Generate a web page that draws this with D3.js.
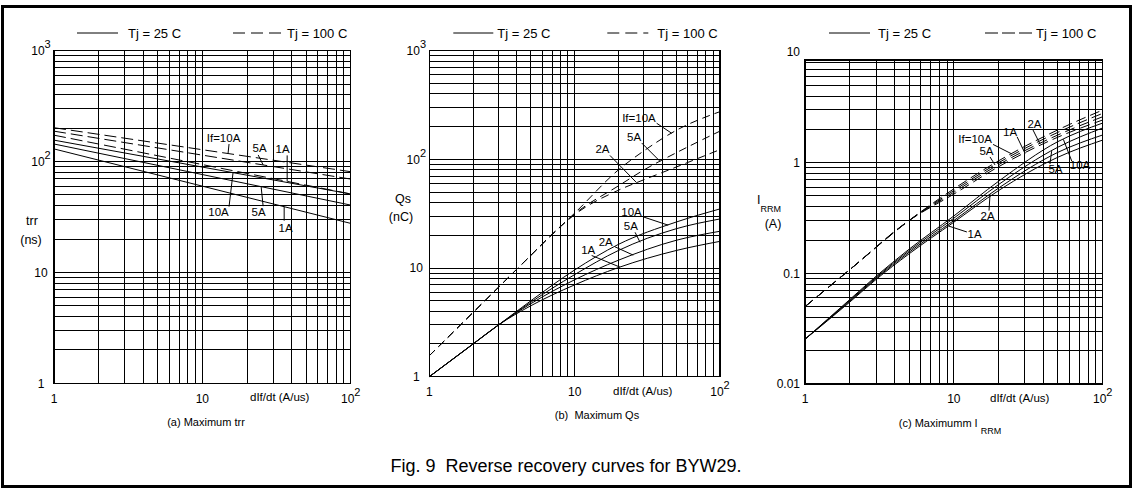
<!DOCTYPE html>
<html><head><meta charset="utf-8">
<script src="https://cdn.jsdelivr.net/npm/d3@7"></script>
<style>
body{margin:0;background:#fff}
svg{display:block}
text{font-family:"Liberation Sans",Arial,Helvetica,sans-serif;fill:#000;white-space:pre}
</style>
</head><body>
<svg id="chart" width="1133" height="490"></svg>
<script>
// ---------------- DATA ----------------
// (a) Maximum trr (ns) vs dIf/dt (A/us)
const trrDIdt    = [1, 100];
const trr25_10A  = [156, 51];
const trr25_5A   = [144, 40.5];
const trr25_1A   = [130, 27.7];
const trr100_10A = [202, 81];
const trr100_5A  = [188, 69.5];
const trr100_1A  = [173, 51];

// (b) Maximum Qs (nC)
const qs25DIdt  = [1, 2, 3, 5, 10, 20, 50, 100];
const qs25_10A  = [1, 2, 3, 5.0, 9.6, 16.5, 26.5, 35];
const qs25_5A   = [1, 2, 3, 4.85, 8.7, 14.5, 23, 28.3];
const qs25_2A   = [1, 2, 3, 4.7, 7.8, 11.8, 18, 21.8];
const qs25_1A   = [1, 2, 3, 4.5, 7.0, 10.1, 14.5, 17.6];
const qs100DIdt = [1, 2, 5, 7, 10, 20, 30, 50, 100];
const qs100_10A = [1.56, 3.9, 13.1, 20.4, 32, 80, 120, 185, 275];
const qs100_5A  = [1.56, 3.9, 13.1, 20.4, 31.5, 57, 80, 115, 182];
const qs100_2A  = [1.56, 3.9, 13.1, 20.4, 31, 52, 65, 85, 123];

// (c) Maximum IRRM (A)
const irr25DIdt  = [1, 2, 3, 5, 10, 20, 50, 100];
const irr25_10A  = [0.0254, 0.058, 0.094, 0.165, 0.33, 0.68, 1.55, 2.28];
const irr25_5A   = [0.0254, 0.057, 0.092, 0.16, 0.315, 0.635, 1.38, 2.06];
const irr25_2A   = [0.0254, 0.056, 0.090, 0.155, 0.30, 0.59, 1.24, 1.78];
const irr25_1A   = [0.0254, 0.055, 0.088, 0.15, 0.29, 0.56, 1.12, 1.6];
const irr100DIdt = [1, 2, 5, 10, 20, 50, 100];
const irr100_10A = [0.05, 0.108, 0.30, 0.58, 1.04, 1.98, 2.99];
const irr100_5A  = [0.05, 0.108, 0.30, 0.56, 1.00, 1.88, 2.79];
const irr100_2A  = [0.05, 0.108, 0.30, 0.54, 0.96, 1.78, 2.60];
const irr100_1A  = [0.05, 0.108, 0.30, 0.52, 0.92, 1.70, 2.43];

// tick labels  [base, superscript]
const xTickVals  = [1, 10, 100];
const xTickText  = [["1",""],["10",""],["10","2"]];
const yTickValsAB = [1, 10, 100, 1000];
const yTickTextAB = [["1",""],["10",""],["10","2"],["10","3"]];
const yTickValsC  = [0.01, 0.1, 1, 10];
const yTickTextC  = [["0.01",""],["0.1",""],["1",""],["10",""]];

const legendSolid  = "Tj = 25 C";
const legendDashed = "Tj = 100 C";
const xTitle = "dIf/dt (A/us)";
const caption = "Fig. 9  Reverse recovery curves for BYW29.";

// ---------------- LAYOUT ----------------
const panels = [
  {
    left: 54, right: 350.7, bottom: 383.3, yTop: 50.7, frameTop: 50.7, dash: "12,5",
    yDomain: [1, 1000], yVals: yTickValsAB, yText: yTickTextAB, yAnchor: "middle", yLabX: -13,
    series: {
      d10: {xs: trrDIdt, ys: trr100_10A, dash: true},
      d5:  {xs: trrDIdt, ys: trr100_5A,  dash: true},
      d1:  {xs: trrDIdt, ys: trr100_1A,  dash: true},
      s10: {xs: trrDIdt, ys: trr25_10A},
      s5:  {xs: trrDIdt, ys: trr25_5A},
      s1:  {xs: trrDIdt, ys: trr25_1A}
    },
    notes: [
      {t:"If=10A", s:"d10", at:14.9, sx:1,   sy:-9.5, tx:-4.5, ty:-16},
      {t:"5A",     s:"d5",  at:25.7, sx:-5,  sy:-10,  tx:-3.5, ty:-17},
      {t:"1A",     s:"d1",  at:37.3, sx:0,   sy:-26,  tx:-4.5, ty:-32},
      {t:"10A",    s:"s10", at:16.1, sx:-4,  sy:34,   tx:-14.5,ty:39.5},
      {t:"5A",     s:"s5",  at:24.9, sx:2,   sy:19.5, tx:-2.5, ty:25.5},
      {t:"1A",     s:"s1",  at:35.6, sx:0,   sy:14,   tx:1.5,  ty:21}
    ],
    legend: {s1:23, s2:64, st:74, d1:179, d2:228, dt:233, y:33},
    yTitle: [{t:"trr", x:32, y:221}, {t:"(ns)", x:31, y:240}],
    xTitleX: 250, sub: {t:"(a) Maximum trr", x:206, y:422}
  },
  {
    left: 429.3, right: 720, bottom: 376.7, yTop: 50.7, frameTop: 50.7, dash: "8,5",
    yDomain: [1, 1000], yVals: yTickValsAB, yText: yTickTextAB, yAnchor: "middle", yLabX: -13,
    series: {
      d10: {xs: qs100DIdt, ys: qs100_10A, dash: true},
      d5:  {xs: qs100DIdt, ys: qs100_5A,  dash: true},
      d2:  {xs: qs100DIdt, ys: qs100_2A,  dash: true},
      s10: {xs: qs25DIdt, ys: qs25_10A},
      s5:  {xs: qs25DIdt, ys: qs25_5A},
      s2:  {xs: qs25DIdt, ys: qs25_2A},
      s1:  {xs: qs25DIdt, ys: qs25_1A}
    },
    notes: [
      {t:"If=10A", s:"d10", at:46.5, sx:-15,  sy:-10,  tx:-32.7, ty:-15},
      {t:"5A",     s:"d5",  at:38.7, sx:-18.3,sy:-18.3,tx:-26,   ty:-24.2},
      {t:"2A",     s:"d2",  at:26.7, sx:-26.7,sy:-27.3,tx:-34.2, ty:-33.3},
      {t:"10A",    s:"s10", at:44,   sx:-25,  sy:-8.3, tx:-36.6, ty:-13.3},
      {t:"5A",     s:"s5",  at:28.2, sx:-5,   sy:-10,  tx:-9.2,  ty:-16.7},
      {t:"2A",     s:"s2",  at:25.3, sx:-18.3,sy:-8.3, tx:-27.5, ty:-13.3},
      {t:"1A",     s:"s1",  at:20.5, sx:-28.3,sy:-11.6,tx:-31.7, ty:-17.5}
    ],
    legend: {s1:24, s2:64, st:68, d1:178, d2:219, dt:228, y:33},
    yTitle: [{t:"Qs", x:403, y:199}, {t:"(nC)", x:401, y:217}],
    xTitleX: 613, sub: {t:"(b)  Maximum Qs", x:597, y:415}
  },
  {
    left: 805, right: 1102.7, bottom: 384, yTop: 52, frameTop: 60, dash: "10,5",
    yDomain: [0.01, 10], yVals: yTickValsC, yText: yTickTextC, yAnchor: "end", yLabX: -5,
    series: {
      d10: {xs: irr100DIdt, ys: irr100_10A, dash: true},
      d5:  {xs: irr100DIdt, ys: irr100_5A,  dash: true},
      d2:  {xs: irr100DIdt, ys: irr100_2A,  dash: true},
      d1:  {xs: irr100DIdt, ys: irr100_1A,  dash: true},
      s10: {xs: irr25DIdt, ys: irr25_10A},
      s5:  {xs: irr25DIdt, ys: irr25_5A},
      s2:  {xs: irr25DIdt, ys: irr25_2A},
      s1:  {xs: irr25DIdt, ys: irr25_1A}
    },
    notes: [
      {t:"If=10A", s:"d10", at:24.5, sx:-18.7, sy:-9.5,  tx:-36.7, ty:-15},
      {t:"5A",     s:"d5",  at:18.9, sx:-5,    sy:-8,    tx:-8.5,  ty:-14},
      {t:"1A",     s:"d1",  at:30.1, sx:-8,    sy:-16.7, tx:-15,   ty:-22},
      {t:"2A",     s:"d2",  at:37.9, sx:-7,    sy:-14,   tx:-5.5,  ty:-20},
      {t:"10A",    s:"s10", at:54.4, sx:8.4,   sy:21.7,  tx:16.7,  ty:26},
      {t:"5A",     s:"s5",  at:45.4, sx:-1.7,  sy:13,    tx:3.8,   ty:17.5},
      {t:"2A",     s:"s2",  at:17.5, sx:-1,    sy:16.3,  tx:-2.5,  ty:21.3},
      {t:"1A",     s:"s1",  at:9.2,  sx:18.4,  sy:6,     tx:26.2,  ty:7.7}
    ],
    legend: {s1:24, s2:65, st:73, d1:180, d2:227, dt:231, y:33, dot:true},
    yTitle: [{t:"(A)", x:773, y:224}],
    irrm: true,
    xTitleX: 990, sub: {t:"(c) Maximumm I", subT:"RRM", x:950, y:423}
  }
];

// ---------------- DRAW ----------------
const svg = d3.select("#chart");
svg.append("rect").attr("width",1133).attr("height",490).attr("fill","#fff");
svg.append("rect").attr("x",2.5).attr("y",6.5).attr("width",1128).attr("height",480)
   .attr("fill","none").attr("stroke","#000").attr("stroke-width",3);

function valAt(xs, ys, xv){
  for(let i=0;i<xs.length-1;i++){
    if(xv>=xs[i] && xv<=xs[i+1]){
      const f=(Math.log(xv)-Math.log(xs[i]))/(Math.log(xs[i+1])-Math.log(xs[i]));
      return Math.exp(Math.log(ys[i])+f*(Math.log(ys[i+1])-Math.log(ys[i])));
    }
  }
  return ys[ys.length-1];
}

function supText(g, x, y, parts, anchor, size){
  const t = g.append("text").attr("x",x).attr("y",y).attr("text-anchor",anchor)
    .attr("font-size",size).attr("dy","0.35em");
  t.append("tspan").text(parts[0]);
  if(parts[1]) t.append("tspan").attr("font-size",size-1).attr("dy",-7).text(parts[1]);
  return t;
}

panels.forEach(p=>{
  const g = svg.append("g");
  const x = d3.scaleLog().domain([1,100]).range([p.left,p.right]);
  const y = d3.scaleLog().domain(p.yDomain).range([p.bottom,p.yTop]);

  // grid
  const xGrid=[]; for(let d=0; d<2; d++) for(let m=1;m<=9;m++) xGrid.push(m*Math.pow(10,d)); xGrid.push(100);
  const yGrid=[]; const d0=Math.round(Math.log10(p.yDomain[0])), d1=Math.round(Math.log10(p.yDomain[1]));
  for(let d=d0; d<d1; d++) for(let m=1;m<=9;m++) yGrid.push(m*Math.pow(10,d)); yGrid.push(p.yDomain[1]);
  g.append("g").selectAll("line").data(xGrid).join("line")
    .attr("x1",d=>x(d)).attr("x2",d=>x(d)).attr("y1",p.frameTop).attr("y2",p.bottom)
    .attr("stroke","#000").attr("stroke-width",1).attr("shape-rendering","crispEdges");
  g.append("g").selectAll("line").data(yGrid.filter(v=>y(v)>=p.frameTop-0.5)).join("line")
    .attr("x1",p.left).attr("x2",p.right).attr("y1",d=>y(d)).attr("y2",d=>y(d))
    .attr("stroke","#000").attr("stroke-width",1).attr("shape-rendering","crispEdges");
  g.append("rect").attr("x",p.left).attr("y",p.frameTop).attr("width",p.right-p.left)
    .attr("height",p.bottom-p.frameTop).attr("fill","none").attr("stroke","#000")
    .attr("stroke-width",1.3).attr("shape-rendering","crispEdges");

  // curves
  const line = d3.line().x(d=>x(d[0])).y(d=>y(d[1])).curve(d3.curveMonotoneX);
  Object.values(p.series).forEach(s=>{
    g.append("path").attr("d",line(s.xs.map((v,i)=>[v,s.ys[i]])))
      .attr("fill","none").attr("stroke","#000").attr("stroke-width",1)
      .attr("stroke-dasharray",s.dash?p.dash:null);
  });

  // annotations
  p.notes.forEach(n=>{
    const s=p.series[n.s];
    const px=x(n.at), py=y(valAt(s.xs,s.ys,n.at));
    g.append("line").attr("x1",px+n.sx).attr("y1",py+n.sy).attr("x2",px).attr("y2",py)
      .attr("stroke","#000").attr("stroke-width",1);
    g.append("text").attr("x",px+n.tx).attr("y",py+n.ty).attr("dy","0.35em")
      .attr("text-anchor","middle").attr("font-size",11.5).text(n.t);
  });

  // x ticks
  xTickVals.forEach((v,i)=>supText(g, x(v), p.bottom+15, xTickText[i], "middle", 12));
  g.append("text").attr("x",p.xTitleX).attr("y",p.bottom+14).attr("dy","0.35em")
    .attr("font-size",11.5).text(xTitle);
  // y ticks
  p.yVals.forEach((v,i)=>supText(g, p.left+p.yLabX, y(v), p.yText[i], p.yAnchor, 12));

  // y title
  p.yTitle.forEach(t=>g.append("text").attr("x",t.x).attr("y",t.y).attr("dy","0.35em")
    .attr("text-anchor","middle").attr("font-size",12.5).text(t.t));
  if(p.irrm){
    const t=g.append("text").attr("x",757).attr("y",200).attr("dy","0.35em").attr("font-size",12.5);
    t.append("tspan").text("I");
    t.append("tspan").attr("font-size",9).attr("dy",8).text("RRM");
  }

  // legend
  const L=p.legend;
  g.append("line").attr("x1",p.left+L.s1).attr("x2",p.left+L.s2).attr("y1",L.y).attr("y2",L.y)
    .attr("stroke","#000").attr("stroke-width",1);
  g.append("text").attr("x",p.left+L.st).attr("y",L.y).attr("dy","0.35em").attr("font-size",13).text(legendSolid);
  g.append("line").attr("x1",p.left+L.d1).attr("x2",p.left+L.d2).attr("y1",L.y).attr("y2",L.y)
    .attr("stroke","#000").attr("stroke-width",1)
    .attr("stroke-dasharray",L.dot?"13,4,13,4,13,3,1,10":"12,6");
  g.append("text").attr("x",p.left+L.dt).attr("y",L.y).attr("dy","0.35em").attr("font-size",13).text(legendDashed);

  // subtitle
  const st=g.append("text").attr("x",p.sub.x).attr("y",p.sub.y).attr("dy","0.35em")
    .attr("text-anchor","middle").attr("font-size",11).text(p.sub.t);
  if(p.sub.subT){ st.append("tspan").attr("font-size",9).attr("dx",3).attr("dy",7).text(p.sub.subT); }
});

svg.append("text").attr("x",566).attr("y",466).attr("dy","0.35em").attr("text-anchor","middle")
  .attr("font-size",18).text(caption);
</script>
</body></html>
